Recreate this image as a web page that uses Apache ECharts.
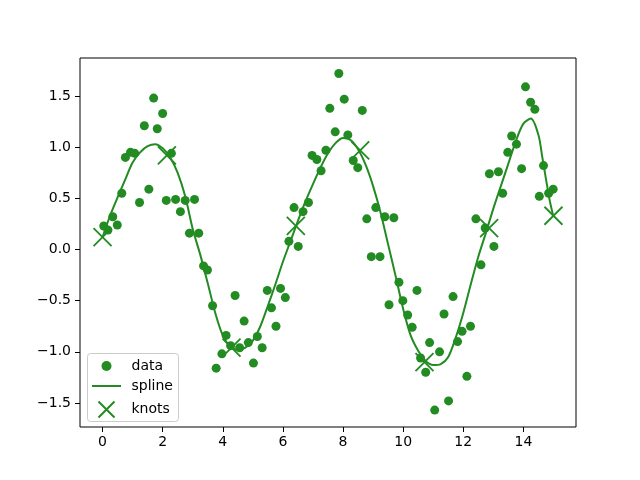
<!DOCTYPE html>
<html>
<head>
<meta charset="utf-8">
<script src="https://cdn.jsdelivr.net/npm/echarts@6/dist/echarts.min.js"></script>
<style>
html, body { margin: 0; padding: 0; background: #fff; }
#chart { width: 640px; height: 480px; }
</style>
</head>
<body>
<div id="chart"></div>
<script>
// noisy samples
var dataX = [0.04,0.18,0.34,0.49,0.64,0.76,0.93,1.07,1.23,1.39,
    1.54,1.70,1.82,2.00,2.12,2.29,2.43,2.59,2.75,2.89,
    3.06,3.20,3.36,3.49,3.66,3.78,3.97,4.11,4.26,4.41,
    4.56,4.71,4.85,5.02,5.15,5.31,5.48,5.62,5.77,5.92,
    6.08,6.20,6.37,6.51,6.67,6.85,6.97,7.13,7.27,7.43,
    7.56,7.74,7.86,8.04,8.16,8.34,8.49,8.64,8.79,8.94,
    9.09,9.23,9.39,9.53,9.69,9.86,9.99,10.15,10.30,10.46,
    10.58,10.75,10.88,11.05,11.21,11.36,11.51,11.66,11.81,11.96,
    12.12,12.24,12.42,12.59,12.73,12.87,13.02,13.17,13.31,13.48,
    13.61,13.77,13.94,14.07,14.24,14.38,14.53,14.67,14.84,14.99];
var dataY = [0.23,0.19,0.32,0.24,0.55,0.90,0.95,0.94,0.46,1.21,
    0.59,1.48,1.18,1.33,0.48,0.94,0.49,0.37,0.48,0.16,
    0.49,0.16,-0.16,-0.20,-0.55,-1.16,-1.02,-0.84,-0.94,-0.45,
    -0.96,-0.70,-0.91,-1.11,-0.85,-0.96,-0.40,-0.57,-0.75,-0.38,
    -0.47,0.08,0.41,0.03,0.37,0.46,0.92,0.88,0.77,0.97,
    1.38,1.15,1.72,1.47,1.12,0.87,0.80,1.36,0.30,-0.07,
    0.41,-0.07,0.32,-0.54,0.31,-0.32,-0.50,-0.64,-0.76,-0.40,
    -1.06,-1.20,-0.91,-1.57,-1.00,-0.63,-1.48,-0.46,-0.90,-0.80,
    -1.24,-0.75,0.30,-0.15,0.21,0.74,0.03,0.76,0.55,0.95,
    1.11,1.03,0.79,1.59,1.44,1.37,0.52,0.82,0.55,0.59];

// fitted spline
var splineX = [0,0.25,0.5,0.75,1,1.25,1.5,1.75,2,2.25,2.5,2.75,3,3.25,3.5,3.75,
    4,4.25,4.5,4.75,5,5.25,5.5,5.75,6,6.25,6.5,6.75,7,7.25,7.5,7.75,
    8,8.25,8.5,8.75,9,9.25,9.5,9.75,10,10.25,10.5,10.75,11,11.25,11.5,11.75,
    12,12.25,12.5,12.75,13,13.25,13.5,13.75,14,14.25,14.5,14.625,14.75,14.875,15];
var splineY = [0.12,0.33,0.51,0.68,0.85,0.95,1.01,1.03,0.99,0.90,0.75,0.52,0.20,-0.05,-0.33,-0.62,
    -0.84,-0.95,-0.98,-0.96,-0.89,-0.75,-0.55,-0.34,-0.12,0.08,0.28,0.47,0.64,0.80,0.94,1.04,
    1.09,1.07,0.98,0.83,0.62,0.36,0.05,-0.26,-0.58,-0.84,-0.99,-1.09,-1.13,-1.12,-1.05,-0.86,
    -0.62,-0.34,-0.07,0.16,0.40,0.62,0.84,1.06,1.23,1.28,1.12,0.91,0.69,0.48,0.32];

var knotX = [0, 2.14, 4.29, 6.43, 8.57, 10.71, 12.86, 15];
var knotY = [0.12, 0.92, -0.96, 0.23, 0.97, -1.10, 0.21, 0.33];

var xTicks = [0, 2, 4, 6, 8, 10, 12, 14];
var yTicks = [-1.5, -1.0, -0.5, 0.0, 0.5, 1.0, 1.5];

var green = '#228b22';
var font = 'DejaVu Sans';

function pairs(xs, ys) {
    return xs.map(function (x, i) { return [x, ys[i]]; });
}

var legendText = { fontSize: 14, fontFamily: font, color: '#000' };
var crossPath = 'path://M0,0L16,16M16,0L0,16';

var chart = echarts.init(document.getElementById('chart'));
var option = {
    animation: false,
    backgroundColor: '#fff',
    grid: {
        left: 80, top: 58, width: 496, height: 369,
        show: true, borderColor: '#000', borderWidth: 1
    },
    xAxis: {
        type: 'value', min: -0.75, max: 15.75,
        axisLine: { show: false, onZero: false },
        splitLine: { show: false },
        axisTick: { show: true, customValues: xTicks, length: 5, lineStyle: { color: '#000', width: 1 } },
        axisLabel: { customValues: xTicks, margin: 8, color: '#000', fontSize: 14, fontFamily: font }
    },
    yAxis: {
        type: 'value', min: -1.735, max: 1.872,
        axisLine: { show: false, onZero: false },
        splitLine: { show: false },
        axisTick: { show: true, customValues: yTicks, length: 5, lineStyle: { color: '#000', width: 1 } },
        axisLabel: {
            customValues: yTicks, margin: 9, color: '#000', fontSize: 14, fontFamily: font,
            formatter: function (v) { return v.toFixed(1).replace('-', '\u2212'); }
        }
    },
    // one legend per row, the visible icon box is what gets placed at "left"
    legend: [
        { data: ['data'], left: 101.5, top: 359, padding: 0, itemWidth: 40, itemHeight: 10,
          textStyle: legendText },
        { data: [{ name: 'spline', icon: 'path://M0,0L29,0L29,2L0,2Z' }], left: 92, top: 379, padding: 0,
          itemWidth: 40, itemHeight: 2, textStyle: legendText },
        { data: [{ name: 'knots', icon: crossPath }], left: 96, top: 399, padding: 0, itemWidth: 40, itemHeight: 16,
          textStyle: legendText }
    ],
    graphic: [{
        type: 'rect', left: 87, top: 353, z: 0,
        shape: { width: 91, height: 68, r: 3 },
        style: { fill: 'rgba(255,255,255,0.8)', stroke: '#cccccc', lineWidth: 1 }
    }],
    series: [
        {
            name: 'data', type: 'scatter',
            data: pairs(dataX, dataY),
            symbol: 'circle', symbolSize: 9,
            itemStyle: { color: green, opacity: 1 }
        },
        {
            name: 'spline', type: 'line',
            data: pairs(splineX, splineY),
            smooth: 0.3, symbol: 'none', showSymbol: false,
            lineStyle: { color: green, width: 2 },
            itemStyle: { color: green }
        },
        {
            name: 'knots', type: 'scatter',
            data: pairs(knotX, knotY),
            symbol: 'path://M0,0L18,18M18,0L0,18', symbolSize: 18,
            itemStyle: { color: 'none', borderColor: green, borderWidth: 1.8, opacity: 1 }
        }
    ]
};
chart.setOption(option);
</script>
</body>
</html>
